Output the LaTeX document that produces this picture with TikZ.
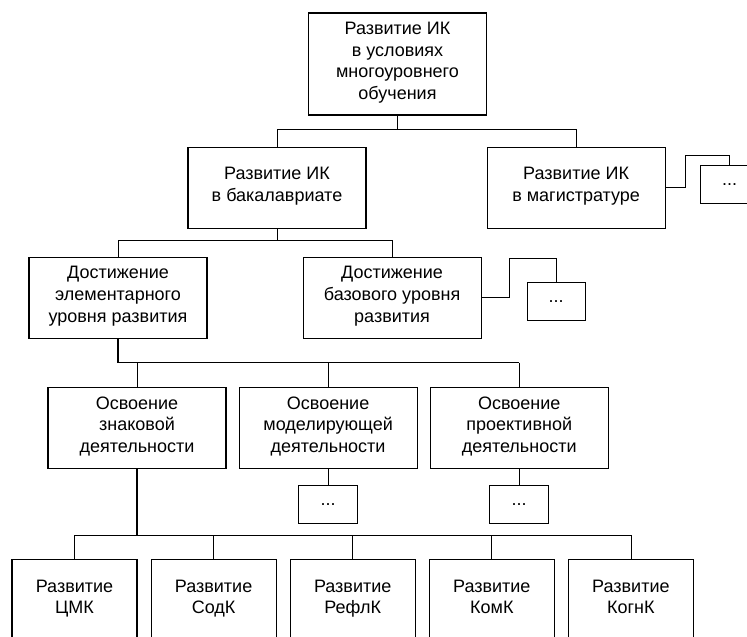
\documentclass[tikz,border=0pt]{standalone}
\usepackage{fontspec}
\setmainfont{Liberation Sans}
\usetikzlibrary{positioning,calc}

\begin{document}
\begin{tikzpicture}[x=1pt,y=-1pt,
    blok/.style={rectangle, draw, line width=1.1pt, minimum height=81pt, minimum width=178pt, align=center, inner sep=1pt, font=\fontsize{18}{21.8}\selectfont, execute at begin node=\strut, execute at end node=\strut},
    niz/.style={blok, minimum width=125pt},
    tochki/.style={rectangle, draw, line width=1.1pt, minimum height=38pt, minimum width=59pt, font=\fontsize{18}{21.8}\selectfont},
    svyaz/.style={line width=0.8pt},
    stvol/.style={line width=1.4pt}]
    \useasboundingbox (0,0) rectangle (747,637);
    \node(top) [blok, minimum height=102pt] at (397.5,64) {Развитие ИК\\в условиях\\многоуровнего\\обучения};
    \node(bak) [blok, below=31pt of top, xshift=-120.5pt] {Развитие ИК\\в бакалавриате};
    \node(mag) [blok, right=120pt of bak] {Развитие ИК\\в магистратуре};
    \node(magd) [tochki, right=34pt of mag, yshift=3.5pt] {...};
    \node(elem) [blok, below=28pt of bak, xshift=-159pt] {Достижение\\элементарного\\уровня развития};
    \node(baz) [blok, right=95pt of elem] {Достижение\\базового уровня\\развития};
    \node(bazd) [tochki, right=45pt of baz, yshift=-3.5pt, minimum width=58pt] {...};
    \node(zn) [blok, below=48pt of elem, xshift=19pt] {Освоение\\знаковой\\деятельности};
    \node(mod) [blok, right=12pt of zn] {Освоение\\моделирующей\\деятельности};
    \node(pr) [blok, right=12pt of mod] {Освоение\\проективной\\деятельности};
    \node(modd) [tochki, below=16pt of mod] {...};
    \node(prd) [tochki, below=16pt of pr] {...};
    \node(c1) [niz] at (74.5,600) {Развитие\\ЦМК};
    \node(c2) [niz, right=13pt of c1] {Развитие\\СодК};
    \node(c3) [niz, right=13pt of c2] {Развитие\\РефлК};
    \node(c4) [niz, right=13pt of c3] {Развитие\\КомК};
    \node(c5) [niz, right=13pt of c4] {Развитие\\КогнК};
    % links
    \draw[svyaz] (top.south) -- ++(0,14) coordinate(h2) -| (bak.north);
    \draw[svyaz] (h2) -| (mag.north);
    \draw[svyaz] (bak.south) -- ++(0,12) coordinate(h3) -| (elem.north);
    \draw[svyaz] (h3) -| (baz.north);
    \draw[svyaz] (mag.east) -- ++(20,0) -- ++(0,-32) -| (magd.north);
    \draw[svyaz] (baz.east) -- ++(28,0) -- ++(0,-39) -| (bazd.north);
    \draw[stvol] (elem.south) -- ++(0,24) coordinate(h4) -- (zn.north |- h4);
    \draw[svyaz] (zn.north |- h4) -- (pr.north |- h4);
    \draw[svyaz] (zn.north |- h4) -- (zn.north);
    \draw[svyaz] (mod.north |- h4) -- (mod.north);
    \draw[svyaz] (pr.north |- h4) -- (pr.north);
    \draw[svyaz] (mod.south) -- (modd.north);
    \draw[svyaz] (pr.south) -- (prd.north);
    \draw[stvol] (zn.south) -- ++(0,67) coordinate(h5);
    \draw[svyaz] (h5) -| (c1.north);
    \draw[svyaz] (h5) -| (c2.north);
    \draw[svyaz] (h5) -| (c3.north);
    \draw[svyaz] (h5) -| (c4.north);
    \draw[svyaz] (h5) -| (c5.north);
\end{tikzpicture}
\end{document}
